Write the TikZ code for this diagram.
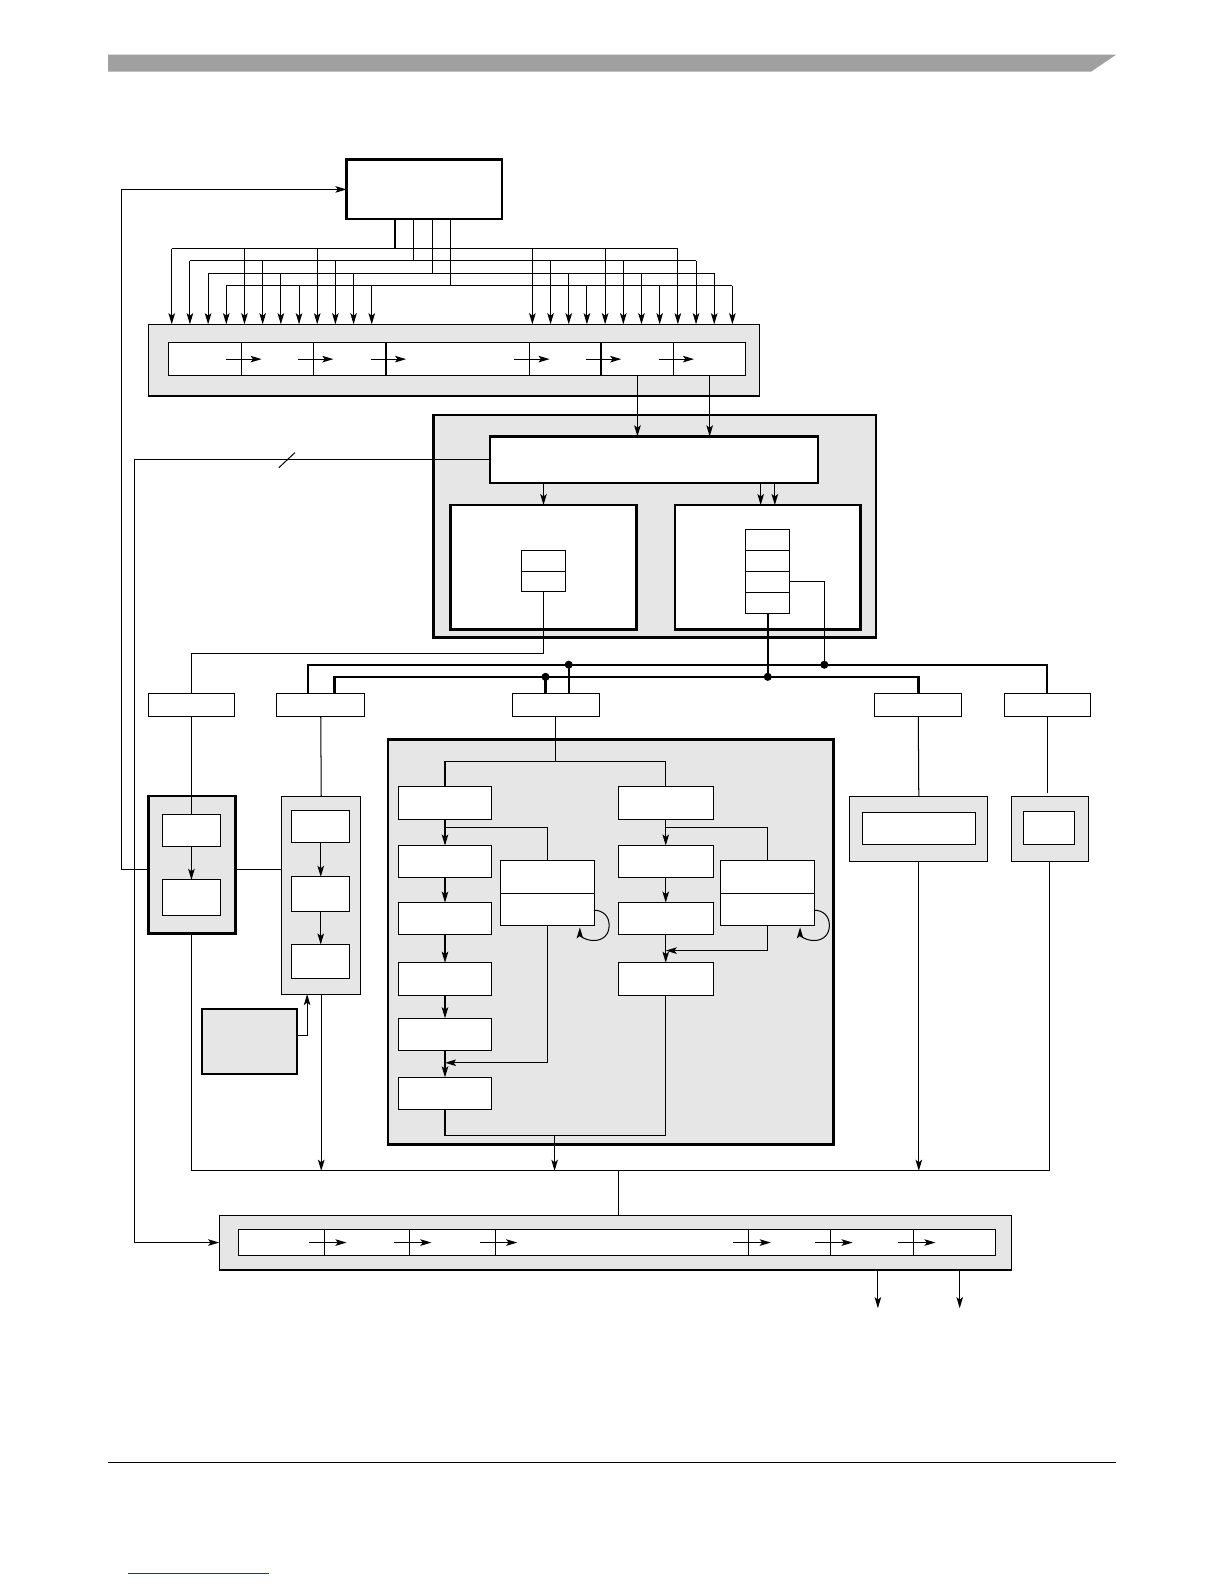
\documentclass[tikz,border=0pt]{standalone}
\usepackage{tikz}
\usetikzlibrary{arrows.meta,calc,positioning}
\definecolor{panel}{RGB}{230,230,230}
\definecolor{band}{RGB}{160,160,160}
\definecolor{linkblue}{RGB}{40,40,200}

\begin{document}
\begin{tikzpicture}[x=1pt,y=-1pt,>={Stealth[length=11pt,width=6.5pt,inset=2.5pt]},line width=1pt,
 wbox/.style={draw,fill=white,inner sep=0pt,outer sep=0pt},
 gbox/.style={draw,fill=panel,inner sep=0pt,outer sep=0pt},
 heavy/.style={line width=2.4pt},
 bus/.style={line width=2.4pt},
 jdot/.style={circle,fill,inner sep=0pt,minimum size=8pt}]
\useasboundingbox (0,0) rectangle (1212,1568);

% page band and rule
\fill[band] (107,54) -- (1105,54) -- (1080,71) -- (107,71) -- cycle;
\draw[line width=1.2pt] (107,1448) -- (1105,1448);
\draw[linkblue] (127,1558) -- (266,1558);

% control and fetch stage
\node[wbox,heavy,minimum width=154,minimum height=59] (ctrl) at (420,187.5) {};
\node[gbox,line width=1.4pt,minimum width=605,minimum height=71] (pipeIn) at (449.5,356.5) {};
\foreach \a/\b [count=\n] in {167/239,239/310,310/382,382/524,524/595,595/667,667/738}
  \node[wbox,line width=1.2pt,minimum width={\b-\a},minimum height=33] (pc\n) at ({(\a+\b)/2},355.5) {};

% core
\node[gbox,heavy,minimum width=438,minimum height=220] (core) at (648,521) {};
\node[wbox,heavy,minimum width=325,minimum height=46] (dec) at (647.5,455) {};
\node[wbox,heavy,minimum width=184,minimum height=123] (unitA) at (538,561.5) {};
\node[wbox,heavy,minimum width=184,minimum height=123] (unitB) at (760,561.5) {};
\node[wbox,minimum width=44,minimum height=20.5] (sa1) at (538,555.25) {};
\node[wbox,minimum width=44,minimum height=20.5] (sa2) at (538,575.75) {};
\foreach \n in {1,...,4}
  \node[wbox,minimum width=44,minimum height=20.75] (sb\n) at (760,{513.6+20.75*\n}) {};

% selectors
\foreach \nm/\x/\w in {sel1/189.5/85,sel2/317.5/87,sel3/550/86,sel4/909/86,sel5/1036.5/85}
  \node[wbox,minimum width=\w,minimum height=23] (\nm) at (\x,697.5) {};

% left units
\node[gbox,heavy,minimum width=86,minimum height=136] (zone1) at (190,856) {};
\node[wbox,minimum width=57,minimum height=32] (z1a) at (189.5,822) {};
\node[wbox,minimum width=57,minimum height=35] (z1b) at (189.5,888.5) {};
\node[gbox,minimum width=78,minimum height=196] (zone2) at (318,886) {};
\node[wbox,minimum width=57,minimum height=32] (z2a) at (317.5,818) {};
\node[wbox,minimum width=57,minimum height=34] (z2b) at (317.5,885) {};
\node[wbox,minimum width=57,minimum height=34] (z2c) at (317.5,952) {};
\node[gbox,heavy,minimum width=94,minimum height=64] (aux) at (247,1031) {};

% middle unit
\node[gbox,heavy,minimum width=441,minimum height=401] (zone3) at (604.5,932.5) {};
\foreach \n/\y in {1/795,2/853,3/909.5,4/969,5/1024,6/1082.5}
  \node[wbox,minimum width=93,minimum height=32] (L\n) at (440.5,\y) {};
\foreach \n/\y in {1/795,2/853,3/909.5,4/969}
  \node[wbox,minimum width=94,minimum height=32] (R\n) at (659,\y) {};
\node[wbox,minimum width=93,minimum height=32] (dL1) at (541.5,868) {};
\node[wbox,minimum width=93,minimum height=32] (dL2) at (541.5,900) {};
\node[wbox,minimum width=93,minimum height=32] (dR1) at (759.5,868) {};
\node[wbox,minimum width=93,minimum height=32] (dR2) at (759.5,900) {};

% right units
\node[gbox,minimum width=137,minimum height=65] (zone4) at (909.5,820.5) {};
\node[wbox,minimum width=112,minimum height=32] (z4a) at (910,820) {};
\node[gbox,minimum width=76,minimum height=65] (zone5) at (1039,820.5) {};
\node[wbox,minimum width=51,minimum height=33] (z5a) at (1038.5,819.5) {};

% retire stage
\node[gbox,line width=1.4pt,minimum width=784,minimum height=54] (retire) at (609,1230) {};
\foreach \a/\b [count=\n] in {236/321,321/405,405/490,490/741,741/822,822/904,904/985}
  \node[wbox,minimum width={\b-\a},minimum height=26] (qc\n) at ({(\a+\b)/2},1230) {};

% control fan-out
\foreach \k/\x in {0/391,1/409,2/428,3/446}{
  \pgfmathsetmacro\yl{246+12.33*\k}
  \draw (ctrl.south -| \x,0) -- (\x,\yl);
  \draw ({170+18*\k},\yl) -- ({671+18*\k},\yl);
}
\foreach \i in {0,...,11}{
  \pgfmathsetmacro\yl{246+12.33*mod(\i,4)}
  \pgfmathsetmacro\xl{170+18*\i}
  \pgfmathsetmacro\xr{527+18*\i}
  \draw[->] (\xl,\yl) -- (pipeIn.north -| \xl,0);
  \draw[->] (\xr,\yl) -- (pipeIn.north -| \xr,0);
}
\foreach \n in {1,...,6}
  \draw[->,line width=1.2pt] ([xshift=-15pt]pc\n.east) -- ([xshift=20pt]pc\n.east);

% fetch to core
\draw[->] (pc6.south) -- (pc6.south |- dec.north);
\draw[->] (pc7.south) -- (pc7.south |- dec.north);
\draw[->] (dec.south -| unitA.north) -- (unitA.north);
\draw[->] (dec.south -| 753,0) -- (unitB.north -| 753,0);
\draw[->] (dec.south -| 767,0) -- (unitB.north -| 767,0);
\draw[->] (dec.west) -- (dec.west -| 133,0) -- (retire.west -| 133,0) -- (retire.west);
\draw (276,463) -- (292,448);

% core to selectors
\draw (sa2.south) -- (538,647) -- (sel1.north |- 0,647) -- (sel1.north);
\draw[bus] (sel2.north -| 305,0) -- (305,658) -- (sel5.north |- 0,658) -- (sel5.north);
\draw[bus] (sel2.north -| 331,0) -- (331,670) -- (sel4.north |- 0,670) -- (sel4.north);
\draw[bus] (sb4.south) -- (sb4.south |- 0,670) node[jdot]{};
\draw (sb3.east) -- (sb3.east -| 816,0) -- (816,658) node[jdot]{};
\draw[bus] (sel3.north -| 563,0) -- (563,658) node[jdot]{};
\draw[bus] (sel3.north -| 540,0) -- (540,670) node[jdot]{};

% left units
\draw (sel1.south) -- (z1a.north);
\draw[->] (z1a.south) -- (z1b.north);
\draw[->] ([yshift=-5pt]zone1.west) -- ([yshift=-5pt]zone1.west -| 120,0) -- (ctrl.west -| 120,0) -- (ctrl.west);
\draw ([yshift=-5pt]zone1.east) -- ([yshift=-5pt]zone1.east -| zone2.west);
\draw (sel2.south) -- (zone2.north);
\draw[->] (z2a.south) -- (z2b.north);
\draw[->] (z2b.south) -- (z2c.north);
\draw[->] ([yshift=6pt]aux.east) -- ([yshift=6pt]aux.east -| 304,0) -- (zone2.south -| 304,0);

% middle unit
\coordinate (mrg) at (549,1124);
\draw (sel3.south) -- (sel3.south |- 0,754);
\draw (L1.north) -- (L1.north |- 0,754) -- (R1.north |- 0,754) -- (R1.north);
\draw[->] (L1.south) -- (L2.north);
\draw (L1.south |- 0,819) -- (dL1.north |- 0,819) -- (dL1.north);
\foreach \a/\b in {L2/L3,L3/L4,L4/L5,L5/L6}
  \draw[->] (\a.south) -- (\b.north);
\draw[->] (dL2.south) -- (dL2.south |- 0,1052) -- (L6.north |- 0,1052);
\draw[->] ([yshift=15pt]dL2.south east) .. controls +(9,0) and +(0,-9) .. ++(15,15)
  .. controls +(0,9) and +(9,0) .. ++(-15,15) .. controls +(-9,0) and +(0,8) .. ++(-14,-13);
\draw[->] (R1.south) -- (R2.north);
\draw (R1.south |- 0,819) -- (dR1.north |- 0,819) -- (dR1.north);
\draw[->] (R2.south) -- (R3.north);
\draw[->] (R3.south) -- (R4.north);
\draw[->] (dR2.south) -- (dR2.south |- 0,941) -- (R4.north |- 0,941);
\draw[->] ([yshift=15pt]dR2.south east) .. controls +(9,0) and +(0,-9) .. ++(15,15)
  .. controls +(0,9) and +(9,0) .. ++(-15,15) .. controls +(-9,0) and +(0,8) .. ++(-14,-13);
\draw (L6.south) -- (L6.south |- mrg) -- (R4.south |- mrg) -- (R4.south);

% right units
\draw (sel4.south) -- (zone4.north);
\draw (sel5.south) -- (sel5.south |- 0,785);

% merge into retire stage
\draw (zone1.south) -- (zone1.south |- 0,1159) -- (zone5.south |- 0,1159) -- (zone5.south);
\draw[->] (zone2.south) -- (zone2.south |- 0,1159);
\draw[->] (mrg) -- (mrg |- 0,1159);
\draw[->] (zone4.south) -- (zone4.south |- 0,1159);
\draw (612,1159) -- (retire.north -| 612,0);
\foreach \n in {1,...,6}
  \draw[->] ([xshift=-15pt]qc\n.east) -- ([xshift=22pt]qc\n.east);
\draw[->] (retire.south -| 869,0) -- (869,1295);
\draw[->] (retire.south -| 950,0) -- (950,1295);
\end{tikzpicture}
\end{document}
